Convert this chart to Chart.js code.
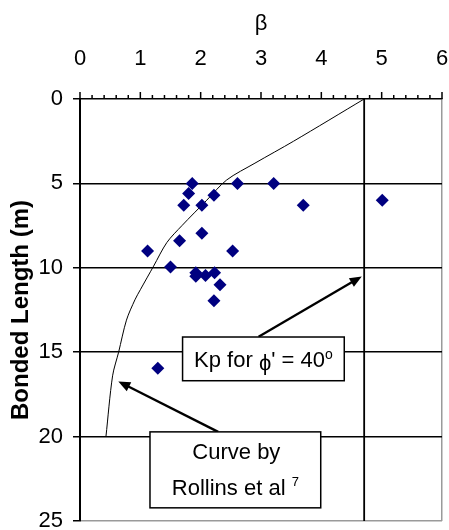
<!DOCTYPE html>
<html>
<head>
<meta charset="utf-8">
<script src="https://cdn.jsdelivr.net/npm/chart.js@4.4.0/dist/chart.umd.min.js"></script>
<style>
html, body { margin: 0; padding: 0; background: #fff; }
#chart { display: block; }
</style>
</head>
<body>
<canvas id="chart" width="449" height="530"></canvas>
<script>
// measured anchors: beta (x) against bonded length in m (y)
const anchorBeta = [1.86, 1.80, 2.22, 1.72, 2.02, 2.61, 3.21, 3.70, 5.01, 2.02, 1.65, 1.12, 2.53, 1.50, 1.92, 1.92, 2.08, 2.23, 2.32, 2.22, 1.29];
const anchorLength = [5.0, 5.6, 5.7, 6.3, 6.3, 5.0, 5.0, 6.3, 6.0, 7.95, 8.4, 9.0, 9.0, 9.95, 10.3, 10.5, 10.45, 10.3, 11.0, 11.95, 15.95];

// curve by Rollins et al
const rollinsBeta = [4.71, 3.54, 2.90, 2.43, 2.10, 1.69, 1.44, 1.22, 1.00, 0.91, 0.77, 0.64, 0.54, 0.43];
const rollinsLength = [0, 2.5, 3.8, 4.8, 6.0, 7.5, 8.5, 9.9, 11.3, 11.9, 13.1, 15.0, 16.4, 20];

// Kp for phi' = 40 deg
const kpBeta = [4.71, 4.71];
const kpLength = [0, 25];

const FONT = 'Liberation Sans, Arial, sans-serif';

function toPoints(xs, ys) {
    return xs.map((x, i) => ({ x: x, y: ys[i] }));
}

function drawArrow(ctx, x1, y1, x2, y2) {
    const a = Math.atan2(y2 - y1, x2 - x1);
    const len = 12, half = 5;
    ctx.beginPath();
    ctx.moveTo(x1, y1);
    ctx.lineTo(x2 - Math.cos(a) * len * 0.8, y2 - Math.sin(a) * len * 0.8);
    ctx.stroke();
    ctx.beginPath();
    ctx.moveTo(x2, y2);
    ctx.lineTo(x2 - len * Math.cos(a) + half * Math.sin(a), y2 - len * Math.sin(a) - half * Math.cos(a));
    ctx.lineTo(x2 - len * Math.cos(a) - half * Math.sin(a), y2 - len * Math.sin(a) + half * Math.cos(a));
    ctx.closePath();
    ctx.fill();
}

// pieces: [text, size, dy]
function drawPieces(ctx, pieces, cx, baseline) {
    let total = 0;
    pieces.forEach(p => {
        ctx.font = p[1] + 'px ' + FONT;
        total += ctx.measureText(p[0]).width;
    });
    let x = cx - total / 2;
    ctx.textAlign = 'left';
    ctx.textBaseline = 'alphabetic';
    pieces.forEach(p => {
        ctx.font = p[1] + 'px ' + FONT;
        ctx.fillText(p[0], x, baseline + p[2]);
        x += ctx.measureText(p[0]).width;
    });
}

const extras = {
    id: 'extras',
    afterDraw(chart) {
        const ctx = chart.ctx;
        const xs = chart.scales.x, ys = chart.scales.y;
        const px = v => xs.getPixelForValue(v);
        const py = v => ys.getPixelForValue(v);
        const top = chart.chartArea.top;

        ctx.save();
        // major + minor ticks on the top axis
        ctx.strokeStyle = '#000';
        ctx.lineWidth = 1.5;
        for (let i = 0; i <= 30; i++) {
            const x = px(i / 5);
            const l = i % 5 === 0 ? 7 : 4;
            ctx.beginPath();
            ctx.moveTo(x, top);
            ctx.lineTo(x, top - l);
            ctx.stroke();
        }

        // arrows
        ctx.fillStyle = '#000';
        ctx.lineWidth = 2.3;
        drawArrow(ctx, px(2.96), py(14.08), px(4.67), py(10.51));
        drawArrow(ctx, px(2.29), py(19.72), px(0.635), py(16.73));

        // boxes
        ctx.lineWidth = 1.5;
        const box = (x1, x2, y1, y2) => {
            const l = px(x1), r = px(x2), t = py(y1), b = py(y2);
            ctx.fillStyle = '#fff';
            ctx.fillRect(l, t, r - l, b - t);
            ctx.strokeRect(l, t, r - l, b - t);
            return { cx: (l + r) / 2, t: t };
        };
        const b1 = box(1.70, 4.38, 14.10, 16.69);
        ctx.fillStyle = '#000';
        drawPieces(ctx, [["Kp for ", 22, 0], ["ϕ", 22, 3], ["' = 40", 22, 0], ["o", 14, -8]], b1.cx, b1.t + 30);

        const b2 = box(1.16, 3.99, 19.72, 24.22);
        ctx.fillStyle = '#000';
        drawPieces(ctx, [["Curve by", 22, 0]], b2.cx + 1, b2.t + 27);
        drawPieces(ctx, [["Rollins et al ", 22, 0], ["7", 13, -9]], b2.cx, b2.t + 63);
        ctx.restore();
    }
};

const chart = new Chart(document.getElementById('chart'), {
    type: 'scatter',
    data: {
        datasets: [
            {
                label: 'Anchors',
                data: toPoints(anchorBeta, anchorLength),
                pointStyle: 'rectRot',
                pointRadius: 6.5,
                backgroundColor: '#000080',
                borderColor: '#000080',
                borderWidth: 0
            },
            {
                label: 'Rollins et al',
                data: toPoints(rollinsBeta, rollinsLength),
                showLine: true,
                pointRadius: 0,
                borderColor: '#000',
                borderWidth: 1,
                tension: 0.3
            },
            {
                label: 'Kp',
                data: toPoints(kpBeta, kpLength),
                showLine: true,
                pointRadius: 0,
                borderColor: '#000',
                borderWidth: 1.8
            }
        ]
    },
    options: {
        responsive: false,
        animation: false,
        devicePixelRatio: 1,
        layout: { padding: { top: 0, left: 0, right: 7, bottom: 9 } },
        plugins: { legend: { display: false }, tooltip: { enabled: false } },
        scales: {
            x: {
                type: 'linear',
                position: 'top',
                min: 0,
                max: 6,
                ticks: { stepSize: 1, color: '#000', font: { family: FONT, size: 22 }, padding: 27, maxRotation: 0 },
                grid: {
                    drawTicks: false,
                    lineWidth: 1.5,
                    color: c => (c.tick && c.tick.value === 6) ? '#9a9a9a' : 'rgba(0,0,0,0)'
                },
                border: { display: true, color: '#000', width: 1.5 },
                title: { display: true, text: 'β', color: '#000', font: { family: FONT, size: 22 }, padding: { top: 11, bottom: 0 } },
                afterFit: s => { s.height = 99; s.paddingLeft = 0; s.paddingRight = 0; }
            },
            y: {
                type: 'linear',
                reverse: true,
                min: 0,
                max: 25,
                ticks: { stepSize: 5, color: '#000', font: { family: FONT, size: 22 }, padding: 10 },
                grid: {
                    lineWidth: 1.5,
                    tickLength: 7,
                    tickColor: '#000',
                    tickWidth: 1.5,
                    color: c => {
                        if (!c.tick) return '#000';
                        if (c.tick.value === 0) return 'rgba(0,0,0,0)';
                        if (c.tick.value === 25) return '#9a9a9a';
                        return '#000';
                    }
                },
                border: { display: true, color: '#000', width: 2 },
                title: { display: true, text: 'Bonded Length (m)', color: '#000', font: { family: FONT, size: 24, weight: 'bold' }, padding: { top: 7, bottom: 0 } },
                afterFit: s => { s.width = 80; s.paddingTop = 0; s.paddingBottom = 0; }
            }
        }
    },
    plugins: [extras]
});
</script>
</body>
</html>
